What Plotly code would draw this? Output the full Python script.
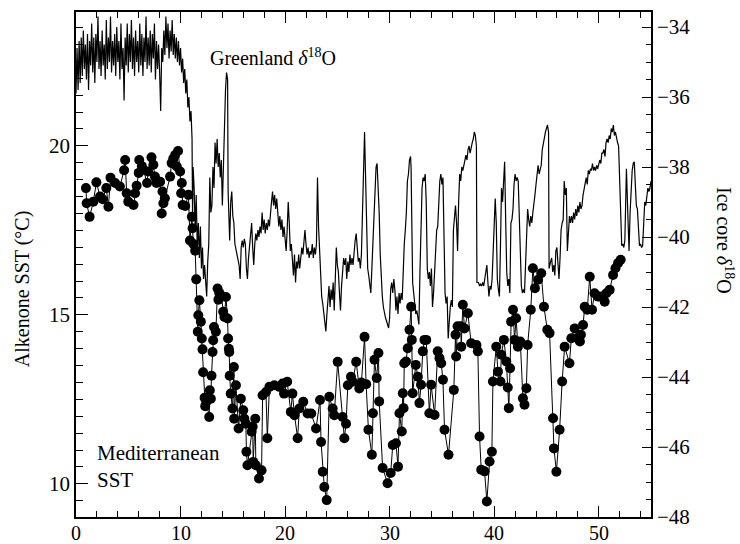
import plotly.graph_objects as go

# ---------------------------------------------------------------
# Greenland ice core oxygen isotope record (age in ka BP, d18O in permil)
# ---------------------------------------------------------------
greenland_holocene = [
    (0.0, -35.9), (0.1, -34.6), (0.2, -35.8), (0.3, -34.4), (0.4, -35.6), (0.5, -34.3), (0.6, -35.4), (0.7, -34.1), (0.8, -35.2), (0.9, -34.5),
    (1.0, -35.5), (1.1, -34.2), (1.2, -35.8), (1.3, -34.4), (1.4, -35.1), (1.5, -33.9), (1.6, -35.3), (1.7, -34.3), (1.8, -35.6), (1.9, -34.2),
    (2.0, -35.0), (2.1, -33.7), (2.2, -35.2), (2.3, -34.4), (2.4, -35.4), (2.5, -34.1), (2.6, -35.1), (2.7, -34.5), (2.8, -35.5), (2.9, -33.8),
    (3.0, -35.2), (3.1, -34.3), (3.2, -35.0), (3.3, -33.7), (3.4, -35.3), (3.5, -34.4), (3.6, -35.1), (3.7, -34.2), (3.8, -35.4), (3.9, -34.0),
    (4.0, -35.0), (4.1, -34.4), (4.2, -35.5), (4.3, -33.9), (4.4, -35.2), (4.5, -34.6), (4.6, -36.1), (4.7, -34.3), (4.8, -35.1), (4.9, -33.9),
    (5.0, -35.3), (5.1, -34.2), (5.2, -35.0), (5.3, -33.8), (5.4, -35.2), (5.5, -34.3), (5.6, -35.4), (5.7, -34.1), (5.8, -35.0), (5.9, -34.4),
    (6.0, -35.3), (6.1, -33.9), (6.2, -35.1), (6.3, -34.2), (6.4, -35.4), (6.5, -34.3), (6.6, -35.0), (6.7, -33.7), (6.8, -35.2), (6.9, -34.3),
    (7.0, -35.1), (7.1, -34.1), (7.2, -35.3), (7.3, -34.2), (7.4, -34.9), (7.5, -33.9), (7.6, -35.5), (7.7, -34.4), (7.8, -35.2), (7.9, -34.5),
    (8.0, -35.3), (8.1, -36.4), (8.2, -34.6), (8.3, -35.0), (8.4, -34.1), (8.5, -34.8), (8.6, -33.7), (8.7, -34.6), (8.8, -33.9), (8.9, -34.9),
    (9.0, -34.1), (9.1, -34.7), (9.2, -33.8), (9.3, -34.8), (9.4, -34.2), (9.5, -34.9), (9.6, -34.3), (9.7, -35.0), (9.8, -34.4), (9.9, -35.1),
]

greenland_deglacial = [
    (10.0, -34.6), (10.1, -35.3), (10.2, -34.9), (10.3, -35.6), (10.4, -35.2), (10.5, -35.9), (10.6, -35.5), (10.7, -36.3), (10.8, -36.0), (10.9, -36.7),
    (11.0, -36.4), (11.1, -37.2), (11.15, -39.5), (11.2, -38.0), (11.3, -38.6), (11.4, -39.8), (11.5, -38.8), (11.6, -40.3), (11.7, -39.6), (11.8, -40.6),
    (11.9, -39.7), (12.0, -40.9), (12.1, -40.3), (12.2, -41.2), (12.3, -40.8), (12.4, -41.5), (12.5, -41.7), (12.6, -40.7), (12.7, -40.2), (12.8, -38.3),
    (12.9, -39.3), (13.0, -39.1), (13.1, -38.0), (13.2, -38.6), (13.3, -37.3), (13.4, -37.9), (13.5, -37.2), (13.6, -38.0), (13.7, -37.6), (13.8, -38.3),
    (13.9, -37.8), (14.0, -39.1), (14.1, -38.0), (14.2, -36.5), (14.3, -35.8), (14.4, -35.3), (14.5, -35.5), (14.55, -38.7), (14.6, -39.3), (14.7, -40.1),
    (14.8, -39.0), (14.9, -38.7), (15.0, -39.4),
]

greenland_glacial = [
    (15.1, -39.6), (15.2, -40.2), (15.4, -40.5), (15.6, -40.8), (15.7, -41.2), (15.8, -40.3), (15.9, -40.1), (16.0, -40.3), (16.1, -40.05), (16.2, -40.2),
    (16.3, -40.9), (16.4, -41.2), (16.5, -40.6), (16.6, -40.2), (16.7, -39.8), (16.8, -39.6), (16.9, -40.3), (17.0, -40.8), (17.1, -40.2), (17.2, -39.9),
    (17.3, -40.1), (17.4, -39.8), (17.5, -40.0), (17.6, -39.7), (17.7, -39.9), (17.8, -39.3), (17.9, -39.8), (18.0, -39.5), (18.1, -39.9), (18.2, -39.6),
    (18.3, -39.8), (18.4, -39.5), (18.5, -39.7), (18.6, -39.2), (18.7, -39.0), (18.8, -38.7), (18.9, -39.1), (19.0, -38.8), (19.1, -39.2), (19.2, -38.9),
    (19.3, -39.3), (19.4, -39.7), (19.5, -39.4), (19.6, -39.8), (19.7, -39.5), (19.8, -40.0), (19.9, -39.7), (20.0, -40.2), (20.1, -40.4), (20.2, -39.8),
    (20.3, -39.0), (20.4, -39.6), (20.5, -40.4), (20.6, -40.2), (20.7, -40.6), (20.8, -41.1), (20.9, -40.5), (21.0, -41.3), (21.1, -40.7), (21.2, -40.9),
    (21.3, -40.5), (21.4, -40.9), (21.5, -40.6), (21.6, -40.3), (21.7, -40.5), (21.8, -40.1), (21.9, -39.8), (22.0, -40.2), (22.1, -40.5), (22.2, -40.3),
    (22.3, -40.6), (22.4, -40.4), (22.5, -40.5), (22.6, -40.2), (22.7, -40.6), (22.8, -40.3), (22.9, -40.5), (23.0, -40.2), (23.1, -38.3), (23.2, -39.7),
    (23.3, -40.4), (23.4, -41.5), (23.5, -41.7), (23.6, -41.9), (23.7, -42.2), (23.8, -42.5), (23.9, -42.7), (24.0, -42.2), (24.1, -41.6), (24.2, -41.4),
    (24.3, -42.0), (24.4, -41.5), (24.5, -41.8), (24.6, -41.3), (24.7, -42.1), (24.8, -41.2), (24.9, -40.3), (25.0, -40.8), (25.1, -41.0), (25.2, -41.6),
    (25.3, -42.1), (25.4, -41.4), (25.5, -40.9), (25.6, -40.6), (25.7, -40.8), (25.8, -40.6), (25.9, -41.2), (26.0, -40.7), (26.1, -41.0), (26.2, -40.5),
    (26.3, -40.8), (26.4, -40.6), (26.5, -40.8), (26.6, -40.3), (26.7, -40.1), (26.8, -39.9), (26.9, -40.4), (27.0, -40.7), (27.1, -40.6), (27.2, -40.9),
    (27.3, -40.5), (27.4, -39.5), (27.5, -38.0), (27.6, -37.0), (27.7, -38.3), (27.8, -40.2), (27.9, -40.9), (28.0, -41.1), (28.1, -41.3), (28.2, -41.6),
    (28.3, -40.9), (28.4, -40.2), (28.5, -39.4), (28.6, -38.5), (28.7, -38.0), (28.8, -37.9), (28.9, -38.6), (29.0, -39.3), (29.1, -40.5), (29.2, -41.2),
    (29.3, -41.7), (29.4, -42.0), (29.5, -42.2), (29.6, -42.3), (29.7, -42.4), (29.8, -42.5), (29.9, -42.6), (30.0, -42.3), (30.1, -41.5), (30.2, -41.3),
    (30.3, -41.6), (30.4, -41.2), (30.5, -41.5), (30.6, -42.1), (30.7, -41.7), (30.8, -42.2), (30.9, -41.6), (31.0, -41.9), (31.1, -41.6), (31.2, -41.8),
    (31.3, -40.8), (31.4, -40.2), (31.5, -39.8), (31.6, -39.3), (31.7, -38.4), (31.8, -38.2), (31.9, -37.8), (32.0, -37.7), (32.05, -38.0), (32.1, -40.0),
    (32.2, -41.3), (32.3, -41.6), (32.4, -42.0), (32.5, -42.2), (32.6, -42.1), (32.7, -42.4), (32.8, -42.5), (32.9, -41.0), (33.0, -39.2), (33.1, -38.6),
    (33.2, -38.3), (33.3, -38.4), (33.4, -38.2), (33.5, -39.0), (33.6, -40.9), (33.7, -41.2), (33.8, -41.0), (33.9, -41.4), (34.0, -40.9), (34.1, -42.0),
    (34.2, -41.6), (34.3, -41.0), (34.4, -40.4), (34.5, -39.8), (34.6, -39.7), (34.7, -38.9), (34.8, -38.4), (34.9, -38.2), (35.0, -38.5), (35.1, -38.3),
    (35.2, -40.0), (35.3, -41.6), (35.4, -41.9), (35.5, -41.7), (35.6, -42.9), (35.7, -42.3), (35.8, -42.0), (35.9, -41.8), (36.0, -42.0), (36.1, -39.8),
    (36.2, -39.4), (36.3, -39.1), (36.4, -39.6), (36.5, -40.4), (36.6, -39.0), (36.7, -38.2), (36.8, -38.4), (36.9, -38.0), (37.0, -38.1), (37.1, -37.9),
    (37.2, -37.8), (37.3, -37.66), (37.4, -37.8), (37.5, -37.5), (37.6, -37.4), (37.7, -37.6), (37.8, -37.4), (37.9, -37.3), (38.0, -37.2), (38.1, -37.0),
    (38.2, -37.1), (38.3, -37.4), (38.35, -41.3), (38.5, -41.3), (38.6, -41.4), (38.7, -41.35), (38.8, -41.4), (38.9, -41.3), (39.0, -41.4), (39.1, -41.2),
    (39.2, -41.0), (39.3, -40.8), (39.4, -41.3), (39.5, -41.7), (39.6, -41.4), (39.7, -41.5), (39.8, -41.2), (39.9, -40.2), (40.0, -39.4), (40.1, -38.9),
    (40.2, -39.6), (40.3, -41.2), (40.4, -41.5), (40.5, -41.7), (40.6, -40.3), (40.7, -38.6), (40.8, -39.0), (40.9, -38.4), (41.0, -37.85), (41.1, -39.5),
    (41.2, -41.0), (41.3, -41.4), (41.4, -41.2), (41.5, -41.6), (41.6, -39.6), (41.7, -39.5), (41.8, -39.2), (41.9, -38.5), (42.0, -38.2), (42.1, -38.4),
    (42.2, -38.3), (42.3, -38.4), (42.4, -39.3), (42.5, -40.5), (42.6, -41.4), (42.7, -41.6), (42.8, -41.5), (42.9, -41.6), (43.0, -40.6), (43.1, -39.8),
    (43.2, -39.2), (43.3, -39.5), (43.4, -39.7), (43.5, -39.4), (43.6, -39.6), (43.7, -39.3), (43.8, -39.1), (43.9, -38.8), (44.0, -38.5), (44.1, -38.2),
    (44.2, -37.95), (44.3, -38.2), (44.4, -38.1), (44.5, -37.95), (44.6, -37.5), (44.7, -37.3), (44.8, -37.1), (44.9, -37.0), (45.0, -36.9), (45.1, -36.8),
    (45.2, -37.0), (45.25, -40.9), (45.4, -40.7), (45.5, -40.6), (45.6, -41.0), (45.7, -40.8), (45.8, -41.1), (45.9, -40.4), (46.0, -40.3), (46.1, -40.9),
    (46.2, -41.2), (46.3, -40.6), (46.4, -39.8), (46.5, -39.6), (46.6, -39.5), (46.7, -38.4), (46.8, -38.8), (46.9, -38.6), (47.0, -40.4), (47.1, -39.9),
    (47.2, -39.4), (47.3, -39.6), (47.4, -39.4), (47.5, -39.6), (47.6, -39.3), (47.7, -39.5), (47.8, -39.2), (47.9, -39.4), (48.0, -39.1), (48.1, -39.3),
    (48.2, -39.0), (48.3, -39.2), (48.4, -39.1), (48.5, -38.8), (48.6, -38.6), (48.7, -38.4), (48.8, -38.3), (48.9, -38.5), (49.0, -38.1), (49.1, -38.2),
    (49.2, -38.05), (49.3, -38.1), (49.4, -37.9), (49.5, -38.1), (49.6, -38.0), (49.7, -38.1), (49.8, -37.95), (49.9, -38.05), (50.0, -37.9), (50.1, -37.8),
    (50.2, -37.9), (50.3, -37.6), (50.4, -37.6), (50.5, -37.5), (50.6, -37.7), (50.7, -37.3), (50.8, -37.2), (50.9, -37.3), (51.0, -37.1), (51.1, -37.2),
    (51.2, -36.9), (51.3, -37.0), (51.4, -36.8), (51.5, -37.1), (51.6, -37.0), (51.7, -37.2), (51.8, -37.3), (51.9, -37.4), (52.0, -38.3), (52.1, -39.5),
    (52.2, -40.25), (52.3, -40.2), (52.4, -40.3), (52.5, -40.1), (52.6, -38.8), (52.65, -38.05), (52.8, -39.5), (52.9, -40.4), (53.0, -39.3), (53.1, -38.4),
    (53.2, -38.1), (53.3, -37.9), (53.4, -37.85), (53.5, -38.5), (53.6, -39.1), (53.7, -39.2), (53.8, -39.9), (53.9, -40.25), (54.0, -40.2), (54.1, -40.3),
    (54.2, -40.25), (54.3, -39.6), (54.4, -39.0), (54.5, -39.1), (54.6, -38.9), (54.7, -38.6), (54.8, -38.7), (54.9, -38.6), (55.0, -38.4),
]

# ---------------------------------------------------------------
# Mediterranean alkenone sea-surface temperature (age in ka BP, SST in deg C)
# ---------------------------------------------------------------
mediterranean_sst = [
    (0.95, 18.75), (1.02, 18.30), (1.30, 17.90), (1.66, 18.35), (1.95, 18.92), (2.30, 18.50), (2.55, 18.42), (2.90, 18.75), (3.10, 18.20), (3.30, 19.06),
    (3.74, 18.90), (4.20, 18.80), (4.60, 19.28), (4.70, 19.58), (4.85, 18.60), (5.00, 18.35), (5.50, 18.25), (5.65, 18.60), (5.80, 18.82), (6.00, 19.20),
    (6.05, 19.58), (6.30, 19.40), (6.45, 19.29), (6.80, 18.90), (6.90, 19.24), (7.22, 19.66), (7.40, 19.44), (7.55, 19.09), (7.70, 18.90), (8.05, 18.94),
    (8.20, 18.00), (8.27, 18.65), (8.36, 18.30), (8.50, 18.45), (9.00, 19.09), (9.15, 19.49), (9.30, 19.62), (9.48, 19.73), (9.64, 19.39), (9.76, 19.85),
    (9.96, 19.24), (10.06, 18.60), (10.12, 18.90), (10.20, 18.25), (10.44, 18.22), (10.76, 18.55), (10.90, 17.20), (11.08, 17.90), (11.15, 17.56), (11.23, 17.10),
    (11.40, 16.90), (11.50, 16.05), (11.65, 14.50), (11.70, 14.99), (11.80, 15.43), (11.94, 14.80), (12.03, 14.30), (12.10, 13.98), (12.16, 13.30), (12.30, 12.55),
    (12.36, 12.30), (12.48, 12.43), (12.74, 11.98), (12.80, 12.77), (12.90, 12.52), (12.96, 13.20), (13.06, 13.90), (13.12, 14.25), (13.20, 14.64), (13.38, 14.50),
    (13.54, 15.78), (13.62, 15.45), (13.70, 15.65), (13.86, 15.58), (14.08, 15.09), (14.20, 14.94), (14.34, 15.53), (14.50, 14.89), (14.55, 14.30), (14.62, 14.00),
    (14.66, 13.90), (14.70, 13.20), (14.80, 12.67), (14.97, 12.23), (15.10, 13.46), (15.13, 11.93), (15.30, 12.92), (15.55, 11.64), (15.77, 12.52), (16.00, 12.18),
    (16.10, 11.93), (16.25, 11.78), (16.30, 10.95), (16.40, 10.55), (16.80, 11.54), (16.90, 11.69), (16.95, 10.65), (17.15, 11.93), (17.20, 10.55), (17.50, 10.16),
    (17.75, 10.40), (17.85, 12.62), (18.17, 12.72), (18.30, 11.35), (18.50, 12.87), (18.97, 12.92), (19.45, 12.87), (19.76, 12.97), (19.90, 12.67), (20.20, 13.02),
    (20.55, 12.13), (20.70, 12.67), (20.90, 12.03), (21.20, 11.35), (21.36, 12.23), (21.74, 12.43), (22.15, 12.08), (22.50, 12.08), (22.96, 11.64), (23.34, 12.48),
    (23.44, 11.24), (23.60, 10.36), (23.75, 9.91), (23.98, 9.52), (24.23, 12.58), (24.55, 12.23), (24.70, 12.03), (25.03, 13.61), (25.50, 11.98), (25.67, 11.35),
    (25.83, 11.78), (26.00, 12.92), (26.30, 13.17), (26.47, 13.02), (26.80, 13.61), (27.10, 12.82), (27.30, 13.00), (27.60, 14.35), (27.75, 12.95), (27.97, 11.60),
    (28.30, 10.86), (28.40, 12.09), (28.55, 13.67), (28.76, 13.13), (28.93, 13.87), (29.00, 12.44), (29.33, 10.47), (29.80, 10.02), (30.10, 10.32), (30.30, 11.15),
    (30.60, 11.20), (30.80, 10.51), (30.94, 12.09), (31.16, 11.55), (31.26, 12.68), (31.33, 12.24), (31.40, 13.57), (31.57, 13.62), (31.73, 14.01), (31.90, 14.56),
    (32.06, 15.24), (32.12, 14.26), (32.20, 12.68), (32.50, 13.52), (32.70, 13.17), (32.85, 12.39), (33.00, 12.93), (33.17, 13.92), (33.33, 14.26), (33.50, 14.26),
    (33.80, 12.09), (33.97, 12.93), (34.30, 12.04), (34.60, 13.92), (34.77, 13.72), (34.93, 13.57), (35.10, 13.08), (35.25, 11.60), (35.63, 10.86), (36.14, 12.78),
    (36.30, 14.41), (36.36, 13.77), (36.50, 14.66), (36.80, 14.66), (36.85, 14.06), (37.00, 15.30), (37.16, 14.60), (37.48, 15.05), (37.80, 14.16), (38.30, 14.11),
    (38.44, 13.92), (38.60, 11.40), (38.76, 10.42), (39.08, 10.37), (39.30, 9.48), (39.56, 10.66), (39.78, 10.95), (39.88, 13.03), (40.20, 14.06), (40.36, 13.32),
    (40.60, 13.03), (40.68, 13.82), (40.93, 14.26), (41.16, 13.62), (41.30, 12.85), (41.40, 12.24), (41.52, 13.42), (41.62, 14.80), (41.80, 15.15), (41.95, 14.26),
    (42.10, 14.90), (42.27, 14.06), (42.50, 14.21), (42.75, 12.53), (42.90, 12.34), (43.08, 12.83), (43.20, 14.11), (43.50, 15.15), (43.70, 16.38), (43.90, 15.79),
    (44.20, 16.04), (44.50, 16.23), (44.76, 15.24), (45.08, 14.56), (45.30, 14.46), (45.63, 11.94), (45.72, 11.05), (45.95, 10.36), (46.26, 11.60), (46.50, 13.03),
    (46.74, 14.06), (47.20, 13.57), (47.38, 14.31), (47.70, 14.60), (47.96, 14.31), (48.20, 14.21), (48.30, 14.41), (48.50, 14.70), (48.66, 15.24), (48.90, 15.15),
    (49.14, 16.13), (49.36, 15.15), (49.60, 15.64), (49.94, 15.54), (50.26, 15.54), (50.57, 15.39), (50.73, 15.64), (51.05, 15.74), (51.37, 16.18), (51.60, 16.38),
    (51.85, 16.53), (52.10, 16.63),
]

# Age axis tick values and their labels
age_ticks = [0, 10, 20, 30, 40, 50]
age_tick_labels = ["0", "10", "20", "30", "40", "50"]

greenland = greenland_holocene + greenland_deglacial + greenland_glacial
ice_age = [a for a, _ in greenland]
ice_d18o = [v for _, v in greenland]
sst_age = [a for a, _ in mediterranean_sst]
sst_val = [v for _, v in mediterranean_sst]

FONT = "Liberation Serif"

fig = go.Figure()

# Ice core curve on the right-hand axis
fig.add_trace(go.Scatter(
    x=ice_age, y=ice_d18o, mode="lines", yaxis="y",
    line=dict(color="black", width=1.2), hoverinfo="skip", showlegend=False,
))

# SST record on the left-hand axis, drawn above the ice core curve
fig.add_trace(go.Scatter(
    x=sst_age, y=sst_val, mode="lines+markers", yaxis="y2",
    line=dict(color="black", width=1),
    marker=dict(color="black", size=10, symbol="circle"),
    hoverinfo="skip", showlegend=False,
))

# Age labels sit just under the bottom axis line, aligned to the major ticks
age_label_annotations = [
    dict(text=lab, x=val, xref="x", y=0, yref="paper", yanchor="middle",
         xanchor="center", yshift=-16, showarrow=False, borderpad=0,
         font=dict(family=FONT, size=20))
    for val, lab in zip(age_ticks, age_tick_labels)
]

fig.update_layout(
    width=740, height=544,
    margin=dict(l=76, r=89, t=12, b=27),
    paper_bgcolor="white", plot_bgcolor="white",
    font=dict(family=FONT, size=21, color="black"),
    xaxis=dict(
        range=[0, 55], tickvals=age_ticks, automargin=False, showticklabels=False,
        ticks="inside", ticklen=11, tickwidth=1.2, tickcolor="black",
        minor=dict(dtick=2, ticks="inside", ticklen=6, tickwidth=1.2, tickcolor="black"),
        showline=True, linewidth=1.5, linecolor="black", mirror="ticks",
        showgrid=False, zeroline=False,
    ),
    yaxis=dict(
        side="right", range=[-48, -33.57], tick0=-48, dtick=2, automargin=False,
        ticks="inside", ticklen=9, tickwidth=1.2, tickcolor="black",
        minor=dict(dtick=0.5, ticks="inside", ticklen=5, tickwidth=1.2, tickcolor="black"),
        showline=True, linewidth=1.5, linecolor="black",
        showgrid=False, zeroline=False,
        tickfont=dict(family=FONT, size=21),
    ),
    yaxis2=dict(
        overlaying="y", side="left", range=[9.02, 23.96], tick0=0, dtick=5, automargin=False,
        ticks="inside", ticklen=12, tickwidth=1.2, tickcolor="black",
        minor=dict(dtick=0.5, ticks="inside", ticklen=7, tickwidth=1.2, tickcolor="black"),
        showline=True, linewidth=1.5, linecolor="black",
        showgrid=False, zeroline=False,
        tickfont=dict(family=FONT, size=21),
    ),
    annotations=age_label_annotations + [
        dict(text="Greenland <i>δ</i><sup>18</sup>O", xref="paper", yref="paper",
             x=0.2296, y=0.911, xanchor="left", yanchor="middle", showarrow=False,
             font=dict(family=FONT, size=20)),
        dict(text="Mediterranean<br>SST", xref="paper", yref="paper",
             x=0.033, y=0.10, xanchor="left", yanchor="middle", align="left",
             showarrow=False, font=dict(family=FONT, size=21)),
        dict(text="Alkenone SST (°C)", xref="paper", yref="paper",
             x=-0.094, y=0.453, xanchor="center", yanchor="middle", textangle=-90,
             showarrow=False, font=dict(family=FONT, size=20)),
        dict(text="Ice core <i>δ</i><sup>18</sup>O", xref="paper", yref="paper",
             x=1.1287, y=0.5485, xanchor="center", yanchor="middle", textangle=90,
             showarrow=False, font=dict(family=FONT, size=20)),
    ],
)

fig.write_html("out.html")
